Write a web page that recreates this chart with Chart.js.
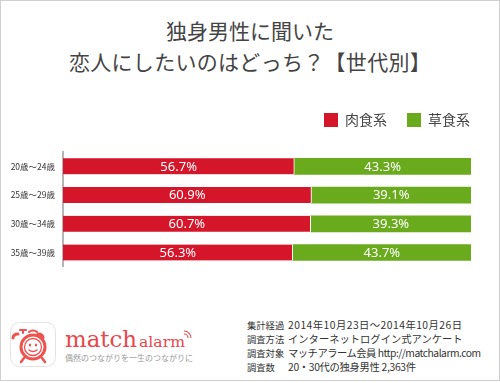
<!DOCTYPE html>
<html><head><meta charset="utf-8">
<script src="https://cdn.jsdelivr.net/npm/chart.js@4"></script>
<style>
html,body{margin:0;padding:0;background:#fff;width:500px;height:383px;overflow:hidden;}
#frame{position:absolute;left:0;top:0;width:500px;height:381px;box-sizing:border-box;border:1px solid #cfcfcf;}
#title{position:absolute;left:0;top:15px;width:500px;text-align:center;font-family:"Noto Sans CJK JP",sans-serif;font-size:21px;line-height:31px;color:#444;}
#chartBox{position:absolute;left:0;top:93px;width:500px;height:187px;}
#footer{position:absolute;left:0;top:310px;}
</style>
</head><body>
<div id="frame"></div>
<div id="title">独身男性に聞いた<br><span style="letter-spacing:0.3px">恋人にしたいのはどっち？【世代別】</span></div>
<div id="chartBox"><canvas id="c"></canvas></div>
<svg id="footer" width="500" height="73" viewBox="0 310 500 73" xmlns="http://www.w3.org/2000/svg">
  <rect x="10.5" y="322.5" width="45" height="44" rx="9" fill="#fff" stroke="#e4e4e4"/>
  <g fill="none" stroke="#ee5350" stroke-linecap="round">
    <path d="M29 332 a5 4 0 0 1 8 0" stroke-width="2"/>
    <path d="M23 333 v-3 M20 330 h6" stroke-width="2"/>
    <path d="M18 334 a4.5 4 0 0 0 -5 4" stroke-width="3"/>
    <path d="M38 334 a4.5 4 0 0 1 5 4" stroke-width="3"/>
    <circle cx="33" cy="347" r="12" stroke-width="3" fill="#fff"/>
    <circle cx="33" cy="347" r="8.5" stroke-width="1.3"/>
    <path d="M29 350 q4 3 8 0" stroke-width="1.4"/>
    <path d="M24 358 l-3 4 M42 358 l3 4" stroke-width="2.5"/>
  </g>
  <g fill="#ee5350"><ellipse cx="30" cy="345" rx="1.2" ry="1.6"/><ellipse cx="36" cy="345" rx="1.2" ry="1.6"/></g>
  <text x="65" y="347" font-family="DejaVu Serif" font-size="22" fill="#e9474b" textLength="72" lengthAdjust="spacingAndGlyphs">match</text>
  <text x="139" y="347" font-family="DejaVu Serif" font-size="14" fill="#e9474b" textLength="46" lengthAdjust="spacingAndGlyphs">alarm</text>
  <g fill="none" stroke="#e9474b" stroke-width="1.1">
    <path d="M184 334 a4 4 0 0 1 4 4"/><path d="M184 331 a7 7 0 0 1 7 7"/>
  </g>
  <text x="65" y="361" font-family="Noto Sans CJK JP" font-size="8" fill="#9a9a9a">偶然のつながりを一生のつながりに</text>
  <g font-family="Noto Sans CJK JP" fill="#333">
    <g font-size="9.3">
      <text x="247" y="329">集計経過</text>
      <text x="247" y="343">調査方法</text>
      <text x="247" y="357">調査対象</text>
      <text x="247" y="371">調査数</text>
    </g>
    <g font-size="10.3">
      <text x="288" y="329" textLength="174" lengthAdjust="spacing">2014年10月23日〜2014年10月26日</text>
      <text x="288" y="343">インターネットログイン式アンケート</text>
      <text x="288" y="357" textLength="193" lengthAdjust="spacing">マッチアラーム会員 http://matchalarm.com</text>
      <text x="288" y="371" textLength="128" lengthAdjust="spacing">20・30代の独身男性 2,363件</text>
    </g>
  </g>
</svg>
<script>
const categories = ['20歳〜24歳', '25歳〜29歳', '30歳〜34歳', '35歳〜39歳'];
const seriesNames = ['肉食系', '草食系'];
const nikushoku = [56.7, 60.9, 60.7, 56.3];
const soushoku = [43.3, 39.1, 39.3, 43.7];

const RED = '#d5162a';
const GREEN = '#6aab1d';

const valueLabels = {
  id: 'valueLabels',
  afterDatasetsDraw(chart) {
    const ctx = chart.ctx;
    ctx.save();
    ctx.font = '13px "Noto Sans", sans-serif';
    ctx.fillStyle = '#fff';
    ctx.textAlign = 'center';
    ctx.textBaseline = 'middle';
    chart.data.datasets.forEach((ds, i) => {
      chart.getDatasetMeta(i).data.forEach((bar, j) => {
        const p = bar.getProps(['x', 'base', 'y'], true);
        ctx.fillText(ds.data[j].toFixed(1) + '%', (p.x + p.base) / 2, p.y + 0.5);
      });
    });
    ctx.restore();
  }
};

const legendSpace = {
  id: 'legendSpace',
  beforeInit(chart) {
    const orig = chart.legend.fit;
    chart.legend.fit = function () { orig.call(this); this.height += 15; };
  },
  afterLayout(chart) {
    chart.legend.right = 490;
  }
};

new Chart(document.getElementById('c'), {
  type: 'bar',
  data: {
    labels: categories,
    datasets: [
      { label: seriesNames[0], data: nikushoku, backgroundColor: RED, borderColor: '#fff',
        borderWidth: { top: 0, left: 0, bottom: 0, right: 1 }, borderSkipped: false, barThickness: 16 },
      { label: seriesNames[1], data: soushoku, backgroundColor: GREEN, borderWidth: 0, barThickness: 16 }
    ]
  },
  options: {
    indexAxis: 'y',
    responsive: true,
    maintainAspectRatio: false,
    animation: false,
    layout: { padding: { top: 0, right: 29, bottom: 7, left: 0 } },
    scales: {
      x: { stacked: true, min: 0, max: 100, display: false },
      y: {
        stacked: true,
        afterFit(scale) { scale.width = 63; },
        grid: { drawOnChartArea: false, drawTicks: false },
        border: { display: true, color: '#b5b5b5', width: 2 },
        ticks: { color: '#333', padding: 8, font: { size: 8.5, family: '"Noto Sans CJK JP", sans-serif' } }
      }
    },
    plugins: {
      tooltip: { enabled: false },
      legend: {
        position: 'top',
        align: 'end',
        labels: {
          boxWidth: 14, boxHeight: 14, padding: 20, color: '#444',
          font: { size: 14, family: '"Noto Sans CJK JP", sans-serif' },
          generateLabels(chart) {
            return Chart.defaults.plugins.legend.labels.generateLabels(chart).map(l => Object.assign(l, { lineWidth: 0 }));
          }
        }
      }
    }
  },
  plugins: [valueLabels, legendSpace]
});
</script>
</body></html>
